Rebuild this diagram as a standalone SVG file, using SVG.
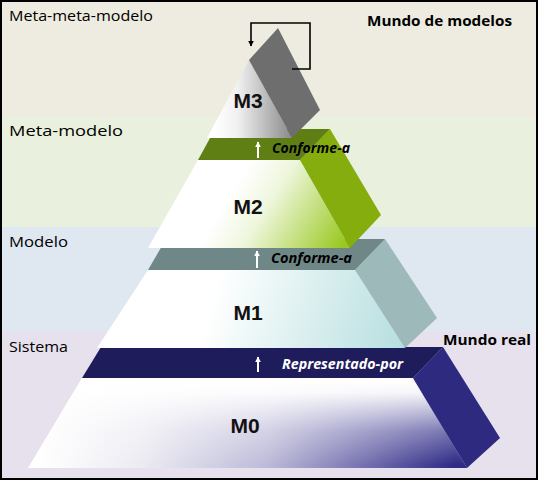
<svg xmlns="http://www.w3.org/2000/svg" width="538" height="480" viewBox="0 0 538 480">
<defs>
<style>
.lbl{font-family:"Open Sans","Liberation Sans",sans-serif;font-size:15px;fill:#000}
.lblb{font-family:"Open Sans","Liberation Sans",sans-serif;font-size:15px;font-weight:bold;fill:#000}
.m{font-family:"Liberation Sans",Arial,sans-serif;font-size:21px;font-weight:bold;fill:#111;text-anchor:middle}
.rel{font-family:"Open Sans","Liberation Sans",sans-serif;font-size:14px;font-weight:bold;font-style:italic}
.warrow{stroke:#fff;stroke-width:2;fill:none}
</style>
<marker id="ah" viewBox="0 0 10 10" refX="9" refY="5" markerWidth="6" markerHeight="6" orient="auto" markerUnits="userSpaceOnUse">
<path d="M0,0 L10,5 L0,10 z" fill="#000"/>
</marker>
<marker id="wh" viewBox="0 0 10 10" refX="9" refY="5" markerWidth="6" markerHeight="6" orient="auto" markerUnits="userSpaceOnUse">
<path d="M0,0 L10,5 L0,10 z" fill="#fff"/>
</marker>
<linearGradient id="g3" gradientUnits="userSpaceOnUse" x1="215" y1="0" x2="292" y2="0">
<stop offset="0" stop-color="#ffffff"/>
<stop offset="0.3" stop-color="#f0f0f0"/>
<stop offset="1" stop-color="#8a8a8a"/>
</linearGradient>
<linearGradient id="g2" gradientUnits="userSpaceOnUse" x1="240" y1="180" x2="345" y2="245">
<stop offset="0" stop-color="#ffffff"/>
<stop offset="0.3" stop-color="#eef6dc"/>
<stop offset="1" stop-color="#98c81e"/>
</linearGradient>
<linearGradient id="g1" gradientUnits="userSpaceOnUse" x1="215" y1="290" x2="400" y2="345">
<stop offset="0" stop-color="#ffffff"/>
<stop offset="0.35" stop-color="#e6f4f4"/>
<stop offset="1" stop-color="#b8dfe0"/>
</linearGradient>
<linearGradient id="g0" gradientUnits="userSpaceOnUse" x1="40" y1="0" x2="455" y2="0">
<stop offset="0" stop-color="#ffffff"/>
<stop offset="0.25" stop-color="#ebeaf2"/>
<stop offset="0.55" stop-color="#bcbad8"/>
<stop offset="0.8" stop-color="#6f6bac"/>
<stop offset="1" stop-color="#2e2a86"/>
</linearGradient>
<linearGradient id="g0w" gradientUnits="userSpaceOnUse" x1="0" y1="380" x2="0" y2="465">
<stop offset="0" stop-color="#ffffff" stop-opacity="1"/>
<stop offset="0.15" stop-color="#ffffff" stop-opacity="0.95"/>
<stop offset="0.6" stop-color="#ffffff" stop-opacity="0.35"/>
<stop offset="1" stop-color="#ffffff" stop-opacity="0"/>
</linearGradient>
</defs>

<g id="background">
<rect x="0" y="0" width="538" height="117" fill="#eeece1"/>
<rect x="0" y="117" width="538" height="110" fill="#eaf0de"/>
<rect x="0" y="227" width="538" height="105" fill="#dfe7f1"/>
<rect x="0" y="332" width="538" height="148" fill="#e6e1ec"/>
</g>

<g id="M0">
<polygon points="82,378 413,378 467,468 28,468" fill="url(#g0)"/>
<polygon points="82,378 413,378 467,468 28,468" fill="url(#g0w)"/>
<polygon points="413,378 443,347 500,438 467,468" fill="#2d2a80"/>
<polygon points="82,378 413,378 443,347 101,347" fill="#1f1c5c"/>
<text class="m" x="245" y="433">M0</text>
</g>

<g id="M1">
<polygon points="148,270 355,270 405,348 97,348" fill="url(#g1)"/>
<polygon points="355,270 385,239 437,318 405,348" fill="#9db9b9"/>
<polygon points="148,270 355,270 385,239 166,239" fill="#6f8787"/>
<text class="m" x="248" y="320">M1</text>
</g>

<g id="M2">
<polygon points="198,160 300,160 350,248 148,248" fill="url(#g2)"/>
<polygon points="300,160 330,129 381,215 350,248" fill="#86ad0e"/>
<polygon points="198,160 300,160 330,129 215,129" fill="#5f7f14"/>
<text class="m" x="248" y="214">M2</text>
</g>

<g id="M3">
<polygon points="249,60 292,138 207,138" fill="url(#g3)"/>
<polygon points="249,60 278,28 320,110 292,138" fill="#6e6e6e"/>
<text class="m" x="248" y="108">M3</text>
</g>

<g id="connectors">
<path d="M292,69 H310 V23 H251 V46" fill="none" stroke="#000" stroke-width="1.6" marker-end="url(#ah)"/>
<line class="warrow" x1="258" y1="158" x2="258" y2="142" marker-end="url(#wh)"/>
<line class="warrow" x1="257" y1="268" x2="257" y2="251" marker-end="url(#wh)"/>
<line class="warrow" x1="258" y1="372" x2="258" y2="357" marker-end="url(#wh)"/>
<text class="rel" x="272" y="153" fill="#000" textLength="78" lengthAdjust="spacingAndGlyphs">Conforme-a</text>
<text class="rel" x="271" y="263" fill="#000" textLength="81" lengthAdjust="spacingAndGlyphs">Conforme-a</text>
<text class="rel" x="282" y="369" fill="#fff" textLength="121" lengthAdjust="spacingAndGlyphs">Representado-por</text>
</g>

<g id="labels">
<text class="lbl" x="9" y="21" textLength="144" lengthAdjust="spacingAndGlyphs">Meta-meta-modelo</text>
<text class="lblb" x="367" y="26" textLength="145" lengthAdjust="spacingAndGlyphs">Mundo de modelos</text>
<text class="lbl" x="9" y="136" textLength="114" lengthAdjust="spacingAndGlyphs">Meta-modelo</text>
<text class="lbl" x="9" y="247" textLength="59" lengthAdjust="spacingAndGlyphs">Modelo</text>
<text class="lbl" x="9" y="352" textLength="59" lengthAdjust="spacingAndGlyphs">Sistema</text>
<text class="lblb" x="443" y="345" textLength="88" lengthAdjust="spacingAndGlyphs">Mundo real</text>
</g>

<rect x="1" y="1" width="536" height="478" fill="none" stroke="#000" stroke-width="2"/>
</svg>
